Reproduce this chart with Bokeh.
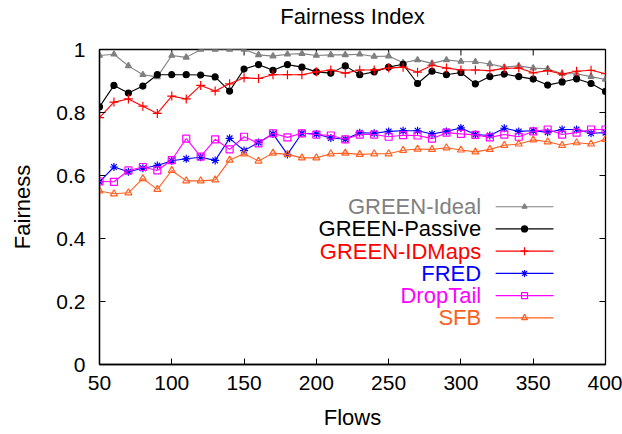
from bokeh.plotting import figure
from bokeh.models import Range1d, FixedTicker, LinearAxis
from bokeh.core.properties import value
from bokeh.embed import file_html
from bokeh.resources import INLINE

# Number of flows (x axis)
flows = [50, 60, 70, 80, 90, 100, 110, 120, 130, 140, 150, 160, 170, 180,
         190, 200, 210, 220, 230, 240, 250, 260, 270, 280, 290, 300, 310,
         320, 330, 340, 350, 360, 370, 380, 390, 400]

# Fairness index per scheme
green_ideal = [0.981, 0.985, 0.948, 0.920, 0.913, 0.981, 0.975, 1.0, 1.0, 1.0,
               1.0, 0.983, 0.979, 0.985, 0.987, 0.981, 0.983, 0.983, 0.985,
               0.978, 0.979, 0.958, 0.967, 0.956, 0.967, 0.962, 0.961, 0.954,
               0.944, 0.948, 0.941, 0.939, 0.923, 0.923, 0.914, 0.905]
green_passive = [0.818, 0.886, 0.862, 0.884, 0.920, 0.920, 0.920, 0.919, 0.913,
                 0.868, 0.938, 0.952, 0.934, 0.952, 0.944, 0.929, 0.925, 0.948,
                 0.920, 0.929, 0.944, 0.953, 0.892, 0.931, 0.920, 0.927, 0.891,
                 0.914, 0.922, 0.914, 0.906, 0.887, 0.897, 0.907, 0.892, 0.867]
green_idmaps = [0.784, 0.833, 0.843, 0.820, 0.797, 0.852, 0.843, 0.886, 0.868,
                0.891, 0.910, 0.908, 0.920, 0.920, 0.920, 0.929, 0.935, 0.925,
                0.935, 0.935, 0.941, 0.944, 0.928, 0.950, 0.941, 0.935, 0.935,
                0.933, 0.940, 0.941, 0.926, 0.933, 0.922, 0.931, 0.934, 0.923]
fred = [0.580, 0.627, 0.612, 0.623, 0.632, 0.647, 0.653, 0.658, 0.648, 0.718,
        0.679, 0.705, 0.732, 0.667, 0.734, 0.732, 0.719, 0.715, 0.736, 0.734,
        0.740, 0.742, 0.742, 0.732, 0.740, 0.751, 0.730, 0.727, 0.750, 0.740,
        0.742, 0.737, 0.746, 0.746, 0.734, 0.736]
droptail = [0.581, 0.580, 0.616, 0.627, 0.616, 0.649, 0.717, 0.660, 0.715,
            0.683, 0.723, 0.702, 0.734, 0.721, 0.734, 0.730, 0.727, 0.715,
            0.730, 0.730, 0.723, 0.728, 0.727, 0.717, 0.736, 0.732, 0.729,
            0.721, 0.730, 0.723, 0.740, 0.746, 0.730, 0.736, 0.746, 0.746]
sfb = [0.551, 0.542, 0.545, 0.590, 0.556, 0.616, 0.583, 0.583, 0.586, 0.649,
       0.669, 0.646, 0.671, 0.667, 0.656, 0.656, 0.669, 0.671, 0.667, 0.669,
       0.669, 0.680, 0.684, 0.683, 0.688, 0.681, 0.675, 0.683, 0.696, 0.700,
       0.713, 0.707, 0.696, 0.704, 0.700, 0.715]

series_names = ["GREEN-Ideal", "GREEN-Passive", "GREEN-IDMaps", "FRED",
                "DropTail", "SFB"]

x_ticks = [50, 100, 150, 200, 250, 300, 350, 400]
y_ticks = [0, 0.2, 0.4, 0.6, 0.8, 1]
y_tick_labels = ["0", "0.2", "0.4", "0.6", "0.8", "1"]

FONT = "Liberation Sans"
X_MIN, X_MAX = 50, 400
Y_MIN, Y_MAX = 0, 1

# Frame geometry in pixels
W, H = 622, 434
BORDER_L, BORDER_R, BORDER_T, BORDER_B = 99, 17, 48, 70
FRAME_W = W - BORDER_L - BORDER_R
FRAME_H = H - BORDER_T - BORDER_B
TICK_PX = 6

# Per-series drawing style: colour, marker, size, filled
styles = [
    ("#808080", "triangle", 6, True),
    ("#000000", "circle", 6, True),
    ("#ff0000", "cross", 9, False),
    ("#0000ff", "asterisk", 8, False),
    ("#ff00ff", "square", 7, False),
    ("#ff6020", "triangle", 7, False),
]
series_values = [green_ideal, green_passive, green_idmaps, fred, droptail, sfb]

p = figure(width=W, height=H, x_range=Range1d(X_MIN, X_MAX),
           y_range=Range1d(Y_MIN, Y_MAX), output_backend="svg",
           toolbar_location=None, title=None, min_border_left=BORDER_L,
           min_border_right=BORDER_R, min_border_top=BORDER_T,
           min_border_bottom=BORDER_B)
p.background_fill_color = "white"
p.border_fill_color = "white"
p.outline_line_color = "black"
p.outline_line_width = 1.3
p.xgrid.visible = False
p.ygrid.visible = False


def style_axis(ax):
    ax.axis_line_color = "black"
    ax.axis_line_width = 1.3
    ax.major_tick_in = TICK_PX
    ax.major_tick_out = 0
    ax.minor_tick_in = 0
    ax.minor_tick_out = 0
    ax.major_tick_line_color = "black"
    ax.major_tick_line_width = 1
    ax.major_label_text_font = FONT
    ax.major_label_text_font_size = "21px"
    ax.major_label_text_color = "black"
    ax.major_label_text_line_height = 1.0
    ax.axis_label_text_font = FONT
    ax.axis_label_text_font_size = "22px"
    ax.axis_label_text_font_style = "normal"
    ax.axis_label_text_color = "black"
    ax.axis_label_text_line_height = 1.0


xa = p.xaxis[0]
xa.ticker = FixedTicker(ticks=x_ticks)
xa.axis_label = "Flows"
xa.major_label_standoff = 11
xa.axis_label_standoff = 12
style_axis(xa)

ya = p.yaxis[0]
ya.ticker = FixedTicker(ticks=y_ticks)
ya.major_label_overrides = {t: s for t, s in zip(y_ticks, y_tick_labels)}
ya.axis_label = "Fairness"
ya.major_label_standoff = 14
ya.axis_label_standoff = 18
style_axis(ya)

# Chart title carried by a tick-less axis above the frame
title_axis = LinearAxis(ticker=FixedTicker(ticks=[]), axis_label="Fairness Index")
style_axis(title_axis)
title_axis.axis_line_color = None
title_axis.major_tick_in = 0
title_axis.major_label_standoff = 0
title_axis.axis_label_standoff = 21
p.add_layout(title_axis, "above")

# Mirrored inward tick marks on the top and right edges
dy_tick = TICK_PX * (Y_MAX - Y_MIN) / FRAME_H
dx_tick = TICK_PX * (X_MAX - X_MIN) / FRAME_W
p.segment(x0=x_ticks, y0=[Y_MAX] * len(x_ticks), x1=x_ticks,
          y1=[Y_MAX - dy_tick] * len(x_ticks), line_color="black", line_width=1)
p.segment(x0=[X_MAX] * len(y_ticks), y0=y_ticks,
          x1=[X_MAX - dx_tick] * len(y_ticks), y1=y_ticks,
          line_color="black", line_width=1)

for vals, (color, marker, size, filled) in zip(series_values, styles):
    p.line(flows, vals, line_color=color, line_width=1.1)
    p.scatter(flows, vals, marker=marker, size=size, line_color=color,
              line_width=1.2, fill_color=color if filled else None)

# Key: label on the left, sample line with marker on the right
KEY_TEXT_X = 314
KEY_LINE_X0 = 324
KEY_LINE_X1 = 364
KEY_MARK_X = 344
KEY_TOP = 0.501
KEY_STEP = 0.0706

for i, (name, (color, marker, size, filled)) in enumerate(zip(series_names, styles)):
    ky = KEY_TOP - i * KEY_STEP
    p.text(x=[KEY_TEXT_X], y=[ky], text=[name], text_align="right",
           text_baseline="middle", text_font=value(FONT),
           text_font_size="22px", text_color=color)
    p.segment(x0=[KEY_LINE_X0], y0=[ky], x1=[KEY_LINE_X1], y1=[ky],
              line_color=color, line_width=1.1)
    p.scatter([KEY_MARK_X], [ky], marker=marker,
              size=size - 1 if marker != "circle" else size,
              line_color=color, line_width=1.2,
              fill_color=color if filled else None)

open("out.html", "w").write(file_html(p, INLINE))
